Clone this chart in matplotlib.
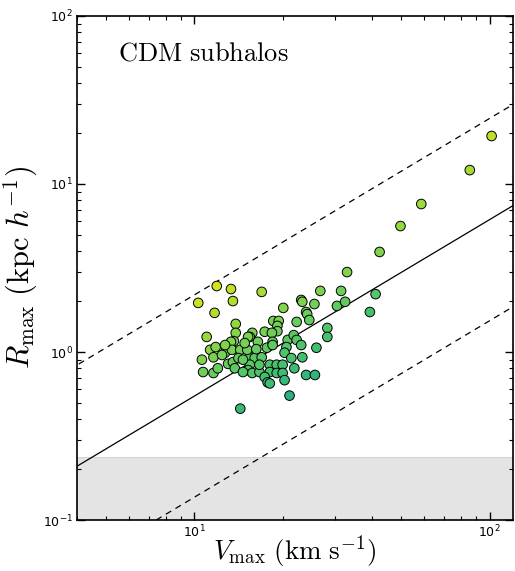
import numpy as np
import matplotlib
matplotlib.use("Agg")
import matplotlib.pyplot as plt

plt.rcParams['mathtext.fontset'] = 'cm'

# subhalo Vmax (km/s) and Rmax (kpc/h)
vmax = [101.6, 85.7, 58.7, 49.9, 42.4, 41.1, 39.3, 32.9, 26.7, 31.4,
        23.0, 23.2, 25.5, 30.4, 32.4, 20.0, 23.9, 24.1, 24.5, 22.2,
        18.5, 19.3, 19.1, 19.1, 17.3, 18.3, 15.7, 15.4, 16.4, 18.4,
        20.7, 21.7, 22.2, 28.2, 28.2, 23.0, 25.9, 20.5, 20.2, 23.2,
        17.6, 18.4, 15.4, 16.0, 16.9, 15.4, 15.2, 15.7, 16.6, 18.0,
        19.0, 19.9, 18.0, 19.0, 19.9, 17.3, 17.7, 20.2, 23.9, 25.6,
        21.0, 11.9, 13.3, 10.3, 13.5, 16.9, 11.7, 13.8, 13.8, 11.0,
        13.6, 15.2, 11.3, 11.8, 13.3, 12.7, 10.6, 11.6, 12.4, 13.4,
        14.3, 15.1, 13.0, 13.5, 14.1, 14.6, 10.7, 11.6, 12.0, 13.7,
        14.6, 14.3, 18.0, 14.8, 16.2, 21.3, 16.6, 12.7, 21.8]
rmax = [19.3, 12.1, 7.60, 5.62, 3.94, 2.21, 1.73, 2.99, 2.31, 2.31,
        2.04, 1.99, 1.93, 1.88, 1.99, 1.83, 1.73, 1.68, 1.55, 1.51,
        1.53, 1.53, 1.43, 1.33, 1.32, 1.30, 1.30, 1.23, 1.15, 1.15,
        1.18, 1.26, 1.18, 1.39, 1.23, 1.10, 1.06, 1.07, 0.99, 0.93,
        1.06, 1.10, 0.93, 0.92, 0.93, 0.84, 0.78, 0.75, 0.76, 0.84,
        0.84, 0.84, 0.76, 0.75, 0.75, 0.71, 0.66, 0.68, 0.73, 0.73,
        0.55, 2.47, 2.37, 1.96, 2.01, 2.28, 1.71, 1.47, 1.30, 1.23,
        1.16, 1.23, 1.03, 1.07, 1.15, 0.99, 0.90, 0.93, 0.96, 1.03,
        1.03, 1.03, 0.85, 0.87, 0.92, 0.90, 0.76, 0.75, 0.80, 0.80,
        0.76, 0.46, 0.65, 1.13, 1.04, 0.92, 0.84, 1.10, 0.80]

# mean relation and its scatter envelope
slope = 1.05
r_at_10 = 0.547
band = 4.0
r_resolved = 0.237

vmax = np.array(vmax)
rmax = np.array(rmax)

fig = plt.figure(figsize=(5.15, 5.71), dpi=100)
ax = fig.add_axes([0.1495, 0.0893, 0.8465, 0.8827])

ax.axhspan(0.1, r_resolved, facecolor='#e4e4e4', edgecolor='#cccccc', lw=0.6, zorder=0)

vv = np.array([3.0, 150.0])
rfit = r_at_10 * (vv / 10.0) ** slope
ax.plot(vv, rfit, 'k-', lw=0.9, zorder=1)
ax.plot(vv, rfit * band, 'k--', lw=0.9, dashes=(5, 4), zorder=1)
ax.plot(vv, rfit / band, 'k--', lw=0.9, dashes=(5, 4), zorder=1)

# colour by offset from the mean relation
resid = np.log10(rmax / (r_at_10 * (vmax / 10.0) ** slope))
cvals = 0.65 + (resid + 0.3) / 0.87 * 0.28
ax.scatter(vmax, rmax, c=plt.cm.viridis(np.clip(cvals, 0, 1)), s=48,
           edgecolors='k', linewidths=0.7, zorder=3)

ax.set_xscale('log')
ax.set_yscale('log')
ax.set_xlim(4, 120)
ax.set_ylim(0.1, 100)

ax.tick_params(which='both', direction='in', top=True, right=True, labelsize=9, pad=3)
ax.tick_params(which='major', length=6, width=1)
ax.tick_params(which='minor', length=3, width=0.8)
for s in ax.spines.values():
    s.set_linewidth(1.2)

ax.text(0.095, 0.925, r'$\mathrm{CDM\ subhalos}$', transform=ax.transAxes,
        fontsize=19, va='center', ha='left')

ax.set_xlabel(r'$V_{\rm max}\ ({\rm km\ s}^{-1})$', fontsize=19.5)
ax.xaxis.set_label_coords(0.5, -0.026)
ax.set_ylabel(r'$R_{\rm max}\ ({\rm kpc}\ h^{-1})$', fontsize=22, labelpad=2)

fig.savefig('out.png', dpi=100)
